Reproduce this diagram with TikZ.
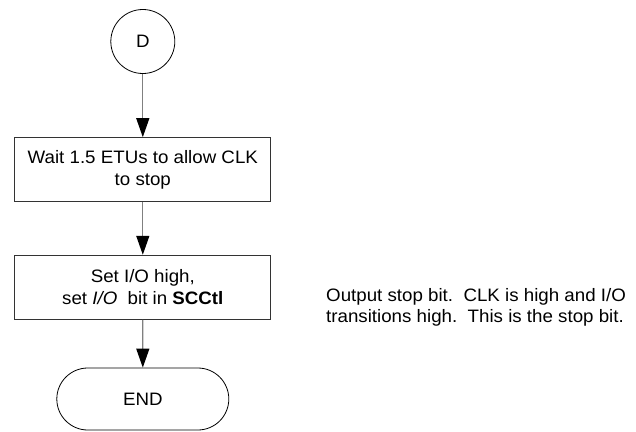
\documentclass[tikz,border=0pt]{standalone}
\usepackage{fontspec}
\setmainfont{Liberation Sans}[FakeStretch=1.04]
\usetikzlibrary{arrows.meta,shapes.misc}

\tikzset{
  flowbox/.style={draw=black!80, line width=1.1pt, rectangle,
    minimum width=256pt, minimum height=64pt, align=center,
    inner sep=0pt, font=\fontsize{18}{22.5}\selectfont},
  connector/.style={draw=black!50, line width=1.3pt,
    -{Triangle[length=19pt,width=13pt,color=black]}},
  labeltext/.style={font=\fontsize{18}{21.5}\selectfont, align=left,
    inner sep=0pt}
}

\begin{document}
\begin{tikzpicture}[x=1pt,y=-1pt]
  \useasboundingbox (0,0) rectangle (636,431);

  % off-page connector
  \node[draw=black, line width=0.8pt, circle, minimum size=64pt, inner sep=0pt,
        font=\fontsize{18}{20}\selectfont] (d) at (142.8,41.5) {D};

  % process steps
  \node[flowbox] (wait) at (142.8,169.7) {Wait 1.5 ETUs to allow CLK\\to stop};
  \node[flowbox] (setio) at (142.8,287.3)
    {Set I/O high,\\set \textit{I/O}~ bit in \textbf{SCCtl}};

  % terminator
  \node[draw=black, line width=0.8pt, rounded rectangle, minimum width=172pt,
        minimum height=62pt, inner sep=0pt,
        font=\fontsize{18}{20}\selectfont] (end) at (142.8,399) {END};

  % side note
  \node[labeltext, anchor=west] (note) at (326,307.5)
    {Output stop bit.\ \ CLK is high and I/O\\transitions high.\ \ This is the stop bit.};

  % flow
  \draw[connector] (d) -- (wait);
  \draw[connector] (wait) -- (setio);
  \draw[connector] (setio) -- (end);
\end{tikzpicture}
\end{document}
